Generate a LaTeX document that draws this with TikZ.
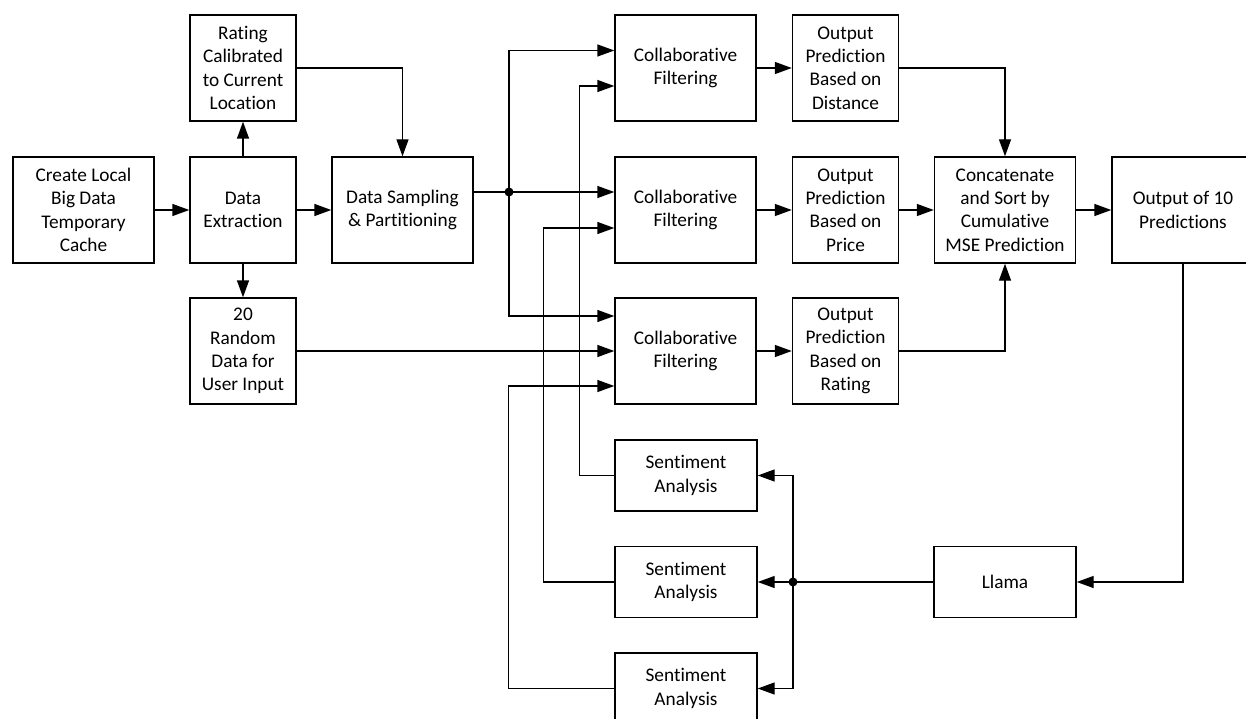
\documentclass[tikz,border=0pt]{standalone}
\usepackage{fontspec}
\setmainfont{Carlito}[Ligatures={NoCommon}]
\usetikzlibrary{arrows.meta,calc}
\begin{document}
\begin{tikzpicture}[x=1pt,y=-1pt,
  box/.style={draw,line width=1.4pt,align=center,inner sep=2pt,
    font=\fontsize{19.3}{23.3}\selectfont},
  wbox/.style={box,minimum width=141pt,minimum height=106pt},
  nbox/.style={box,minimum width=106pt,minimum height=106pt},
  sbox/.style={box,minimum width=142pt,minimum height=71pt},
  conn/.style={line width=1.4pt},
  arr/.style={conn,-{Triangle[length=17pt,width=12pt]}},
  dot/.style={circle,fill=black,inner sep=0pt,minimum size=9pt}]
\useasboundingbox (0,0) rectangle (1246,719);
\clip (0,0) rectangle (1246,719);
% nodes
\node[wbox] (cache) at (83.5,210) {Create Local\\Big Data\\Temporary\\Cache};
\node[nbox] (extract) at (243,210) {Data\\Extraction};
\node[nbox] (rating) at (243,68) {Rating\\Calibrated\\to Current\\Location};
\node[nbox] (random) at (243,351) {20\\Random\\Data for\\User Input};
\node[wbox] (sampling) at (402.5,210) {Data Sampling\\\& Partitioning};
\node[wbox] (cf1) at (685.5,68) {Collaborative\\Filtering};
\node[wbox] (cf2) at (685.5,210) {Collaborative\\Filtering};
\node[wbox] (cf3) at (685.5,351) {Collaborative\\Filtering};
\node[nbox] (od) at (845.5,68) {Output\\Prediction\\Based on\\Distance};
\node[nbox] (op) at (845.5,210) {Output\\Prediction\\Based on\\Price};
\node[nbox] (orr) at (845.5,351) {Output\\Prediction\\Based on\\Rating};
\node[wbox] (concat) at (1005,210) {Concatenate\\and Sort by\\Cumulative\\MSE Prediction};
\node[wbox,minimum width=142pt] (out10) at (1183,210) {Output of 10\\Predictions};
\node[sbox] (sa1) at (686,475.5) {Sentiment\\Analysis};
\node[sbox] (sa2) at (686,582) {Sentiment\\Analysis};
\node[sbox] (sa3) at (686,688.5) {Sentiment\\Analysis};
\node[sbox] (llama) at (1005,582) {Llama};
\node[dot] (j1) at (509,192) {};
\node[dot] (j2) at (793,582) {};
% connectors
\draw[arr] (cache) -- (extract);
\draw[arr] (extract) -- (sampling);
\draw[arr] (extract) -- (rating);
\draw[arr] (extract) -- (random);
\draw[arr] (rating.east) -| (sampling.north);
\draw[conn] (sampling.east |- j1) -- (j1.center);
\draw[arr] (j1.center) -- (cf2.west |- j1);
\draw[arr] (j1.center) |- ([yshift=17.5pt]cf1.west);
\draw[arr] (j1.center) |- ([yshift=35pt]cf3.west);
\draw[arr] (random.east) -- (random.east -| cf3.west);
\draw[arr] (sa1.west) -- ++(-35,0) |- ([yshift=-18pt]cf1.west);
\draw[arr] (sa2.west) -- ++(-71,0) |- ([yshift=-18pt]cf2.west);
\draw[arr] (sa3.west) -- ++(-106,0) |- ([yshift=-35pt]cf3.west);
\draw[arr] (cf1) -- (od);
\draw[arr] (cf2) -- (op);
\draw[arr] (cf3) -- (orr);
\draw[arr] (od.east) -| (concat.north);
\draw[arr] (op) -- (concat);
\draw[arr] (orr.east) -| (concat.south);
\draw[arr] (concat) -- (out10);
\draw[arr] (out10.south) |- (llama.east);
\draw[conn] (llama.west) -- (j2.center);
\draw[arr] (j2.center) -- (sa2.east);
\draw[arr] (j2.center) |- (sa1.east);
\draw[arr] (j2.center) |- (sa3.east);
\end{tikzpicture}
\end{document}
